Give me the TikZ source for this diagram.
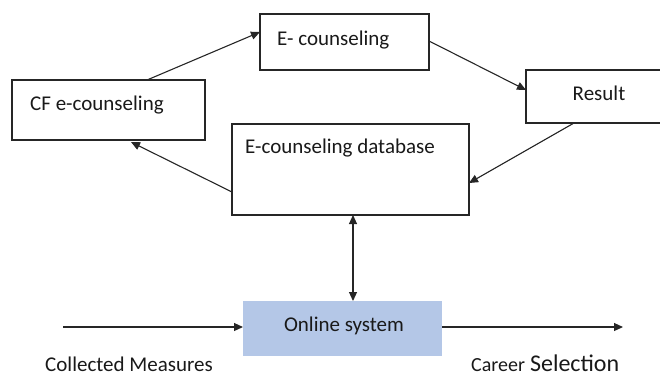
\documentclass[tikz,border=0pt]{standalone}
\usepackage{fontspec}
\setmainfont{Carlito}
\usetikzlibrary{arrows.meta}
\begin{document}
\begin{tikzpicture}[x=1pt,y=-1pt,
  box/.style={draw=black!85, line width=1.2pt},
  lbl/.style={font=\fontsize{21}{24}\selectfont, text=black!90, inner sep=0pt},
  conn/.style={draw=black!85, line width=1.1pt, -{Triangle[length=9pt,width=8pt]}},
  dconn/.style={draw=black!85, line width=1.1pt, {Triangle[length=9pt,width=8pt]}-{Triangle[length=9pt,width=8pt]}}]
\useasboundingbox (0,0) rectangle (660,376);
\clip (0,0) rectangle (660,376);
% boxes
\draw[box] (260,14) rectangle (429,70);
\coordinate (ecl) at (260,32); \coordinate (ecr) at (429,41);
\node[lbl, anchor=base west] (ect) at (277,45) {E- counseling};
\draw[box] (12,80) rectangle (205,140);
\coordinate (cft) at (147,80); \coordinate (cfb) at (131,142);
\node[lbl, anchor=base west] (cft2) at (30,110) {CF e-counseling};
\draw[box] (526,70) rectangle (668,123);
\coordinate (rl) at (526,90); \coordinate (rb) at (574,123);
\node[lbl, anchor=base] (rt) at (599,100) {Result};
\draw[box] (232,124) rectangle (469,215);
\coordinate (dbr) at (469,183); \coordinate (dbl) at (232,192);
\coordinate (dbb) at (353,215);
\node[lbl, anchor=base] (dbt) at (340,153) {E-counseling database};
\fill[fill={rgb,255:red,180;green,199;blue,231}] (243,301) rectangle (442,356);
\coordinate (osl) at (243,327); \coordinate (osr) at (442,327); \coordinate (ost) at (353,301);
\node[lbl, anchor=base] (ost2) at (344,331) {Online system};
% connectors
\coordinate (inA) at (63,327); \coordinate (outB) at (623,327);
\draw[conn] (cft) -- (ecl);
\draw[conn] (ecr) -- (rl);
\draw[conn] (rb) -- (dbr);
\draw[conn] (dbl) -- (cfb);
\draw[dconn] (dbb) -- (ost);
\draw[conn] (inA) -- (osl);
\draw[conn] (osr) -- (outB);
% labels
\node[lbl, anchor=base west] (cm) at (45,371) {Collected Measures};
\node[lbl, anchor=base west] (cs) at (471,371) {{\fontsize{20}{22}\selectfont Career}\hspace{5pt}{\fontsize{24}{26}\selectfont Selection}};
\end{tikzpicture}
\end{document}
